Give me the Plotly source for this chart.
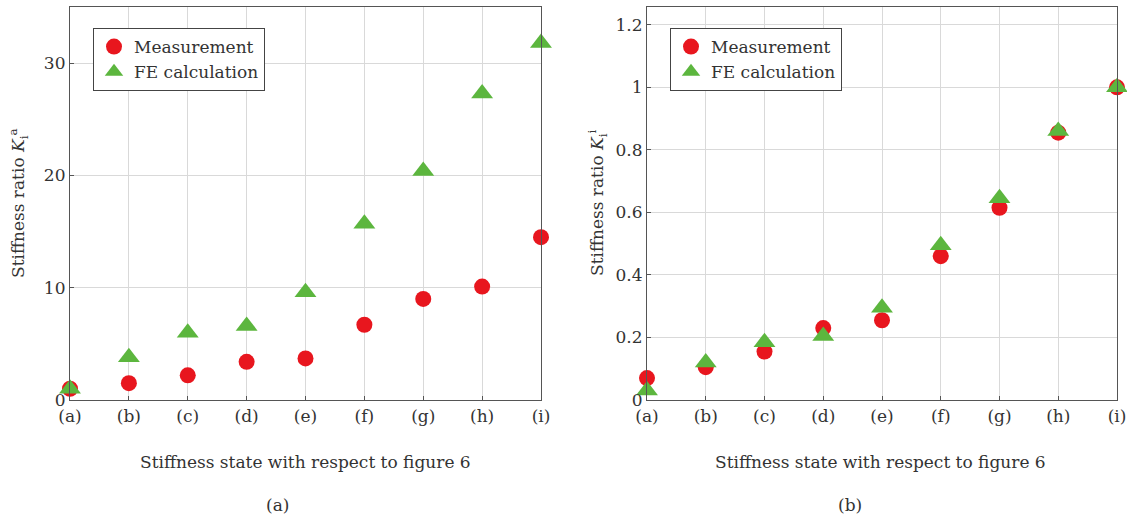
import plotly.graph_objects as go

states = ["(a)", "(b)", "(c)", "(d)", "(e)", "(f)", "(g)", "(h)", "(i)"]
pos = list(range(len(states)))

meas_a = [1.0, 1.5, 2.2, 3.4, 3.7, 6.7, 9.0, 10.1, 14.5]
fe_a = [1.0, 3.8, 6.0, 6.6, 9.6, 15.7, 20.4, 27.3, 31.8]

meas_b = [0.07, 0.105, 0.155, 0.23, 0.255, 0.46, 0.615, 0.855, 1.0]
fe_b = [0.03, 0.12, 0.185, 0.205, 0.295, 0.495, 0.645, 0.86, 1.0]

yticks_a = [0, 10, 20, 30]
yticks_b = [0, 0.2, 0.4, 0.6, 0.8, 1.0, 1.2]
yticklabels_b = ["0", "0.2", "0.4", "0.6", "0.8", "1", "1.2"]

RED = "#e8161e"
GREEN = "#5cb63e"
FONT = "DejaVu Serif"
FS = 17
TXT = "#333333"
W, H = 1127, 524

fig = go.Figure()

def add(xref, yref, meas, fe, legend):
    fig.add_trace(go.Scatter(x=pos, y=meas, mode="markers", name="Measurement",
                             marker=dict(symbol="circle", size=16, color=RED),
                             xaxis=xref, yaxis=yref, cliponaxis=False, legend=legend))
    fig.add_trace(go.Scatter(x=pos, y=fe, mode="markers", name="FE calculation",
                             marker=dict(symbol="triangle-up", size=19, color=GREEN),
                             xaxis=xref, yaxis=yref, cliponaxis=False, legend=legend))

add("x", "y", meas_a, fe_a, "legend")
add("x2", "y2", meas_b, fe_b, "legend2")

def px_x(a, b):
    return [a / W, b / W]

def px_y(top, bottom):
    return [(H - bottom) / H, (H - top) / H]

axis_common = dict(showline=True, linecolor="#555555", linewidth=1.2, mirror=True,
                   showgrid=True, gridcolor="#d9d9d9", gridwidth=1, zeroline=False,
                   ticks="inside", ticklen=4, tickcolor="#555555", automargin=False,
                   tickfont=dict(family=FONT, size=FS, color=TXT))

legend_common = dict(y=(H - 28) / H, xanchor="left", yanchor="top",
                     bordercolor="#444444", borderwidth=1, bgcolor="white",
                     font=dict(family=FONT, size=FS, color=TXT), tracegroupgap=0,
                     entrywidth=160, entrywidthmode="pixels")

fig.update_layout(
    width=W, height=H, margin=dict(l=0, r=0, t=0, b=0, autoexpand=False),
    paper_bgcolor="white", plot_bgcolor="white",
    font=dict(family=FONT, size=FS, color=TXT),
    xaxis=dict(domain=px_x(70, 541), range=[0, 8], tickvals=pos, ticktext=states, **axis_common),
    yaxis=dict(domain=px_y(7, 400), range=[0, 35], tickvals=yticks_a, **axis_common),
    xaxis2=dict(domain=px_x(647, 1117), range=[0, 8], tickvals=pos, ticktext=states,
                anchor="y2", **axis_common),
    yaxis2=dict(domain=px_y(7, 400), range=[0, 1.257], tickvals=yticks_b,
                ticktext=yticklabels_b, anchor="x2", **axis_common),
    legend=dict(x=93 / W, **legend_common),
    legend2=dict(x=670 / W, **legend_common),
)

def ann(text, x, y, angle=0, size=FS):
    fig.add_annotation(text=text, x=x / W, y=(H - y) / H, xref="paper", yref="paper",
                       showarrow=False, textangle=angle,
                       font=dict(family=FONT, size=size, color=TXT),
                       xanchor="center", yanchor="middle")

ann("Stiffness state with respect to figure 6", 306, 462)
ann("Stiffness state with respect to figure 6", 880, 462)
ann("(a)", 277, 505)
ann("(b)", 850, 505)
ann("Stiffness ratio <i>K</i><sub>i</sub><sup>a</sup>", 18, 203, angle=-90)
ann("Stiffness ratio <i>K</i><sub>i</sub><sup>i</sup>", 597, 203, angle=-90)

fig.write_html("out.html", config={"displayModeBar": False},
               post_script="document.body.style.margin='0';document.body.style.overflow='hidden';")
